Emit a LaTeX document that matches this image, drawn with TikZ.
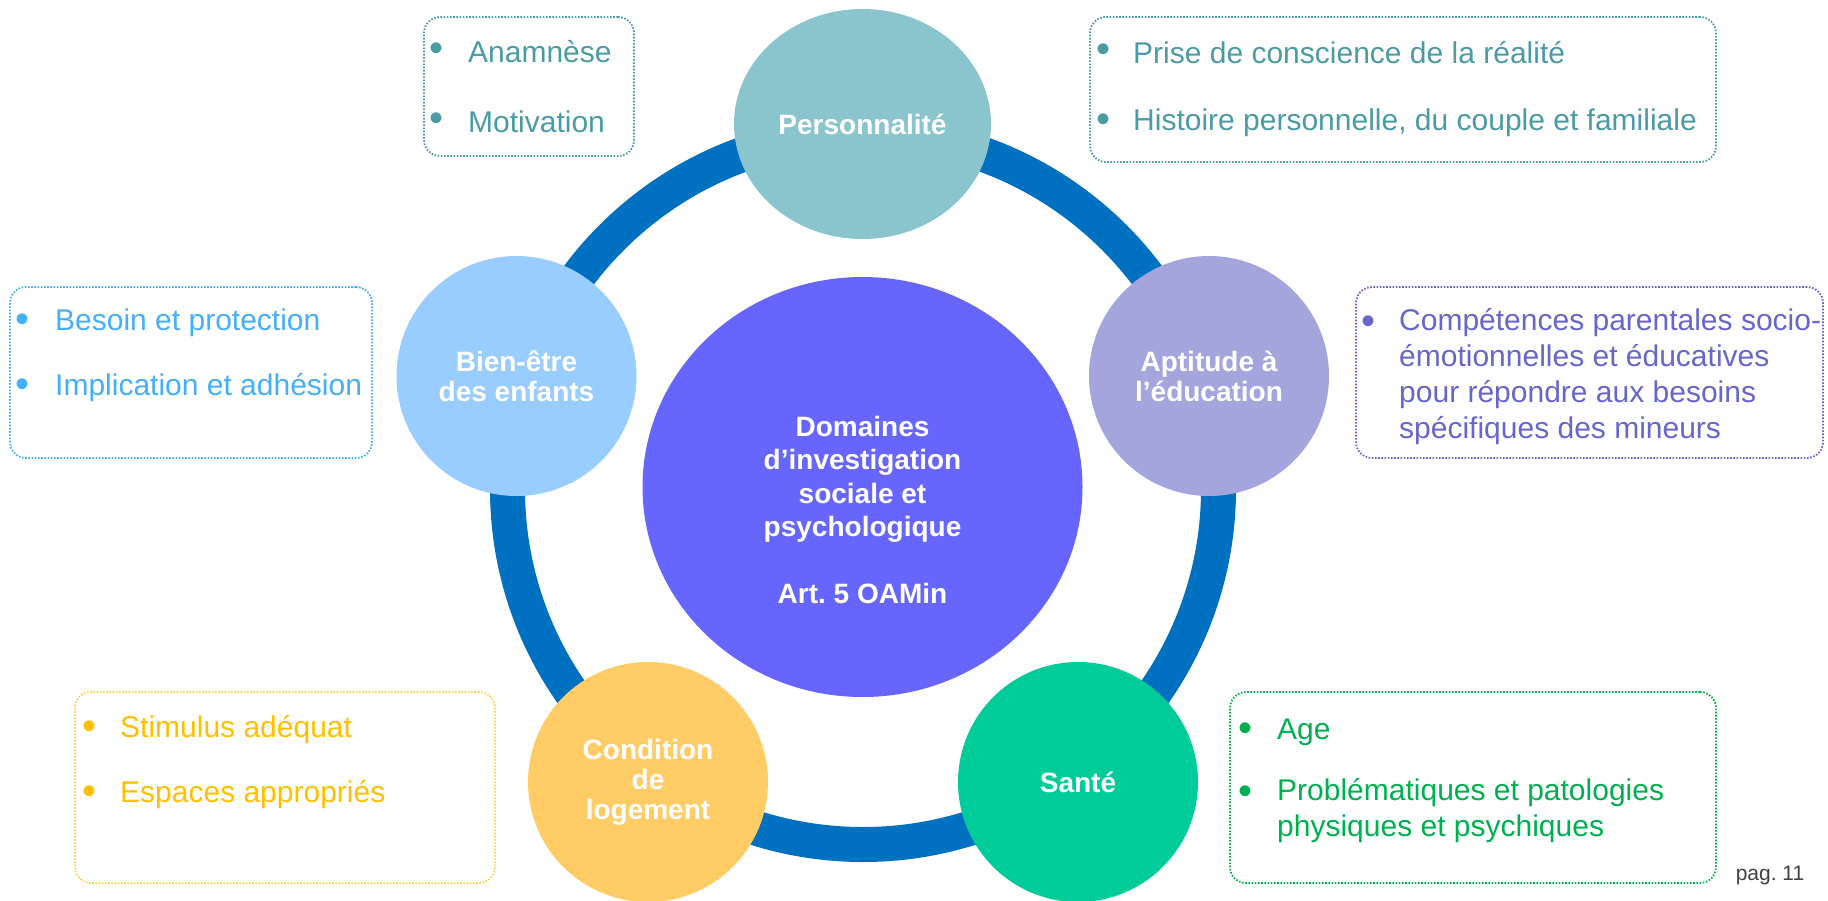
\documentclass[tikz,border=0pt]{standalone}
\usepackage{fontspec}
\setmainfont{Liberation Sans}
\usetikzlibrary{shapes.geometric}
\frenchspacing
\definecolor{ringc}{HTML}{0070C0}
\definecolor{persc}{HTML}{8AC5CD}
\definecolor{aptc}{HTML}{A5A5DE}
\definecolor{santec}{HTML}{00CC99}
\definecolor{condc}{HTML}{FFCC66}
\definecolor{bienc}{HTML}{99CCFF}
\definecolor{corec}{HTML}{6666FF}
\definecolor{tealt}{HTML}{4A9BA4}
\definecolor{bluet}{HTML}{44AFFF}
\definecolor{purplet}{HTML}{6666CC}
\definecolor{yellowt}{HTML}{FFC000}
\definecolor{greent}{HTML}{00B050}
\definecolor{greyt}{HTML}{404040}
\tikzset{
  disc/.style={circle, fill=#1, draw=none, minimum size=240pt, inner sep=0pt,
    text=white, font=\fontsize{28}{30}\selectfont\bfseries, align=center},
  infobox/.style={draw=#1, line width=1.8pt, dash pattern=on 1.6pt off 1.6pt,
    rounded corners=16pt, inner sep=0pt},
  bul/.style={text=#1, font=\fontsize{40}{40}\selectfont, inner sep=0pt, anchor=center},
  itemtxt/.style={text=#1, font=\fontsize{30}{36}\selectfont, inner sep=0pt, anchor=west, align=left},
}
\begin{document}
\begin{tikzpicture}[x=1pt,y=-1pt]
\useasboundingbox (0,0) rectangle (1828,900);
% ring
\draw[ringc, line width=35pt] (863,489) circle (355.5);
% central disc
\node[ellipse, fill=corec, minimum width=440pt, minimum height=420pt, inner sep=0pt] (core) at (862.5,487) {};
\node[text=white, font=\fontsize{28}{33.5}\selectfont\bfseries, align=center] (coretxt) at (862.5,510)
  {Domaines\\d’investigation\\sociale et\\psychologique\\[33.5pt]Art. 5 OAMin};
% outer discs
\node[ellipse, fill=persc, minimum width=257pt, minimum height=230pt, inner sep=0pt,
  text=white, font=\fontsize{28}{30}\selectfont\bfseries] (pers) at (862.5,124) {Personnalité};
\node[disc=aptc] (apt) at (1209,376) {Aptitude à\\l’éducation};
\node[disc=santec] (sante) at (1078,782) {Santé};
\node[disc=condc] (cond) at (648,782) {Condition\\de\\logement};
\node[disc=bienc] (bien) at (516.5,376) {Bien-être\\des enfants};
% boxes
\node[infobox=tealt, minimum width=210pt, minimum height=139pt] (boxA) at (529,86.5) {};
\node[bul=tealt] (bA1) at (436,52.5) {•};
\node[itemtxt=tealt] (tA1) at (468,52) {Anamnèse};
\node[bul=tealt] (bA2) at (436,122.5) {•};
\node[itemtxt=tealt] (tA2) at (468,122) {Motivation};

\node[infobox=tealt, minimum width=626pt, minimum height=145pt] (boxP) at (1403,89.5) {};
\node[bul=tealt] (bP1) at (1103,53.5) {•};
\node[itemtxt=tealt] (tP1) at (1133,53) {Prise de conscience de la réalité};
\node[bul=tealt] (bP2) at (1103,123.5) {•};
\node[itemtxt=tealt] (tP2) at (1133,123) {Histoire personnelle, du couple et familiale};

\node[infobox=bluet, minimum width=362pt, minimum height=171pt] (boxB) at (191,372.5) {};
\node[bul=bluet] (bB1) at (23,323.5) {•};
\node[itemtxt=bluet] (tB1) at (55,323) {Besoin et protection};
\node[bul=bluet] (bB2) at (23,388.5) {•};
\node[itemtxt=bluet] (tB2) at (55,388) {Implication et adhésion};

\node[infobox=purplet, minimum width=467pt, minimum height=171pt] (boxC) at (1589.5,372.5) {};
\node[bul=purplet] (bC1) at (1368,325.5) {•};
\node[itemtxt=purplet, anchor=north west] (tC1) at (1399,308)
  {Compétences parentales socio-\\émotionnelles et éducatives\\pour répondre aux besoins\\spécifiques des mineurs};

\node[infobox=yellowt!70, minimum width=420pt, minimum height=191pt] (boxS) at (285,787.5) {};
\node[bul=yellowt] (bS1) at (90,730.5) {•};
\node[itemtxt=yellowt] (tS1) at (120,730) {Stimulus adéquat};
\node[bul=yellowt] (bS2) at (90,795.5) {•};
\node[itemtxt=yellowt] (tS2) at (120,795) {Espaces appropriés};

\node[infobox=greent, minimum width=486pt, minimum height=191pt] (boxG) at (1473,787.5) {};
\node[bul=greent] (bG1) at (1245,732.5) {•};
\node[itemtxt=greent] (tG1) at (1277,732) {Age};
\node[bul=greent] (bG2) at (1245,795.5) {•};
\node[itemtxt=greent, anchor=north west] (tG2) at (1277,778)
  {Problématiques et patologies\\physiques et psychiques};

\node[text=greyt, font=\fontsize{21}{24}\selectfont, inner sep=0pt] (pag) at (1770,875) {pag. 11};
\end{tikzpicture}
\end{document}
